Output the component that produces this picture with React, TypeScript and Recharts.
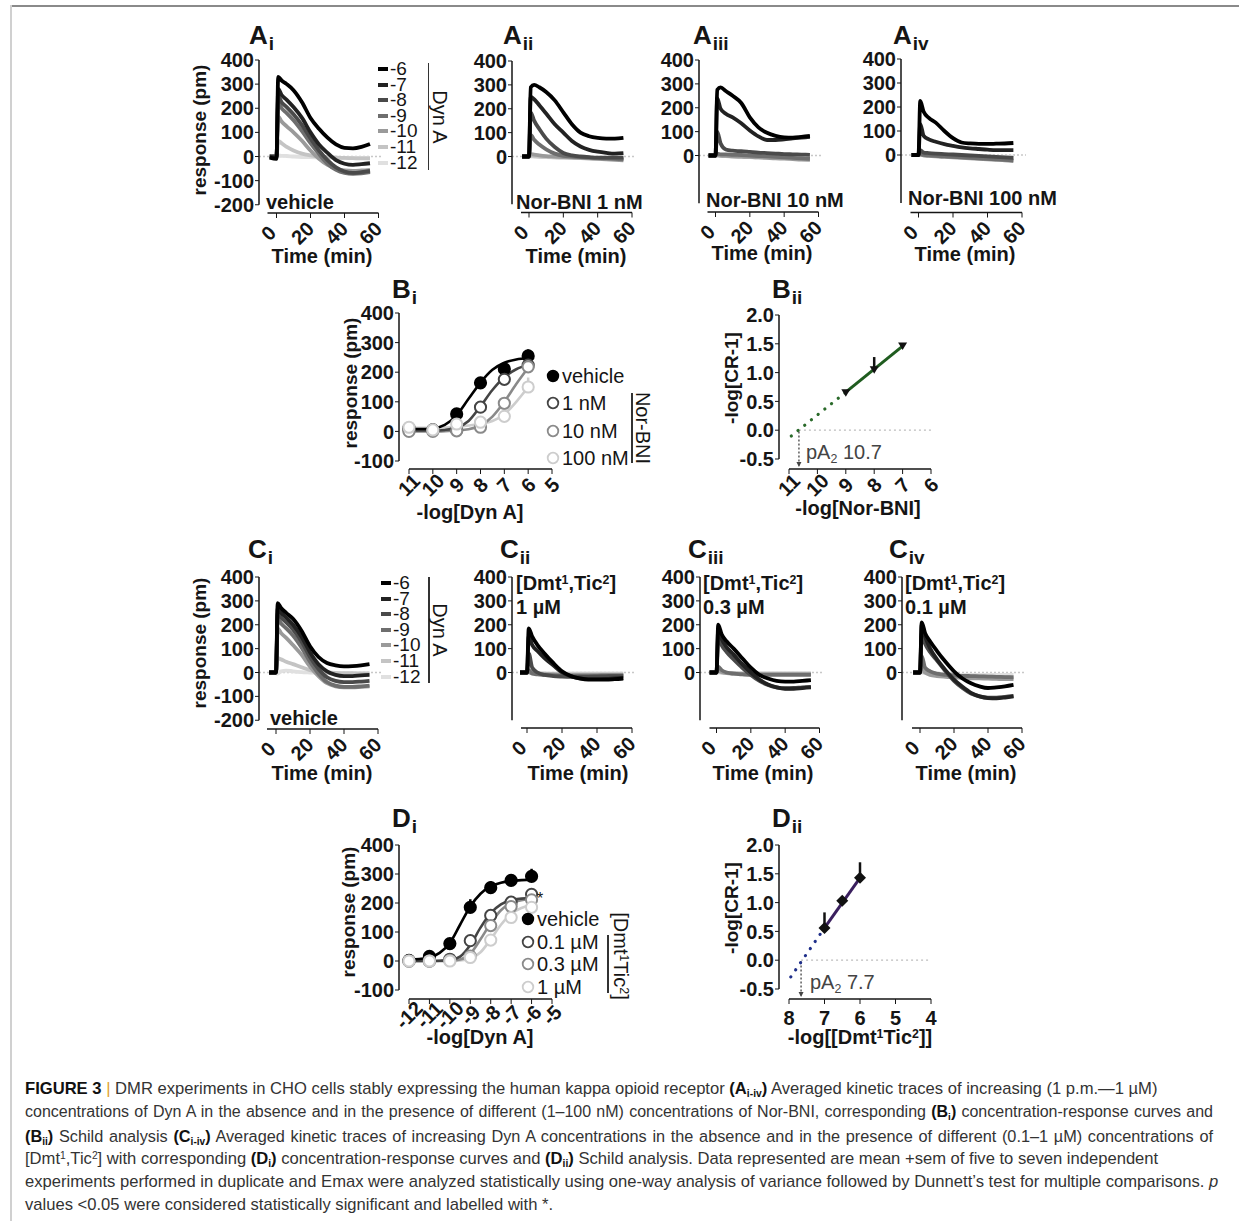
import React from 'react';
import { ComposedChart, Line, Scatter, XAxis, YAxis, ReferenceLine, ReferenceDot, ErrorBar } from 'recharts';

const FONT = '"Liberation Sans", Arial, Helvetica, sans-serif';
const INK = '#151515';

// ---------------- kinetic traces (response in pm vs time in min) ----------------
const TIME = [-4, 0, 1, 3, 6, 10, 15, 20, 25, 30, 35, 40, 45, 50, 55];
const TIME_TICKS = [0, 20, 40, 60];
const DYN_LEGEND = ['-6', '-7', '-8', '-9', '-10', '-11', '-12'];
const TRACE_COLORS = ['#000000', '#222222', '#4a4a4a', '#6e6e6e', '#9a9a9a', '#c4c4c4', '#e0e0e0'];

const A_I_TRACES = [
  [-5, -10, 330, 315, 300, 275, 225, 160, 115, 78, 50, 36, 34, 40, 52],
  [0, -5, 280, 255, 235, 205, 160, 100, 50, 15, -15, -30, -35, -32, -28],
  [0, 0, 250, 225, 205, 175, 130, 75, 25, -15, -45, -62, -68, -65, -60],
  [0, 0, 225, 200, 180, 150, 105, 55, 10, -30, -55, -68, -72, -70, -65],
  [0, 0, 165, 145, 125, 100, 65, 25, -10, -35, -50, -58, -60, -58, -55],
  [0, 0, 65, 55, 40, 25, 12, 5, 0, -3, -5, -6, -7, -8, -8],
  [0, 0, 5, 3, 2, 0, -2, -3, -4, -5, -5, -6, -6, -6, -6],
];
const A_II_TRACES = [
  [0, 0, 290, 300, 290, 270, 235, 185, 135, 100, 85, 78, 75, 75, 78],
  [0, 0, 250, 240, 215, 180, 135, 100, 65, 42, 28, 20, 15, 12, 14],
  [0, 0, 185, 150, 115, 75, 40, 15, 5, 0, -3, -5, -5, -5, -5],
  [0, 0, 90, 70, 50, 30, 12, 3, 0, -3, -5, -6, -8, -10, -12],
  [0, 0, 10, 8, 5, 2, 0, -2, -4, -6, -8, -10, -12, -14, -16],
  [0, 0, 3, 2, 0, -2, -4, -5, -6, -7, -8, -9, -10, -10, -10],
  [0, 0, 0, -1, -2, -3, -4, -5, -5, -6, -6, -7, -7, -7, -7],
];
const A_III_TRACES = [
  [0, 0, 275, 285, 270, 250, 220, 160, 118, 95, 82, 76, 75, 78, 82],
  [0, 0, 240, 195, 175, 160, 135, 105, 80, 65, 65, 68, 72, 75, 78],
  [0, 0, 100, 50, 25, 20, 18, 15, 12, 10, 8, 6, 5, 4, 3],
  [0, 0, 8, 5, 5, 3, 2, 0, -2, -4, -6, -8, -10, -12, -14],
  [0, 0, 2, 0, -2, -4, -5, -6, -8, -10, -12, -13, -15, -17, -18],
  [0, 0, 0, -2, -3, -5, -6, -7, -8, -9, -10, -11, -12, -13, -14],
  [0, 0, 0, -1, -2, -3, -4, -5, -6, -7, -8, -9, -10, -10, -10],
];
const A_IV_TRACES = [
  [0, 0, 225, 180, 155, 135, 100, 70, 52, 48, 46, 46, 47, 48, 50],
  [0, 0, 130, 80, 65, 55, 45, 38, 32, 28, 25, 22, 20, 20, 20],
  [0, 0, 20, 10, 8, 6, 4, 2, 0, -2, -4, -6, -8, -10, -12],
  [0, 0, 5, 0, -2, -4, -6, -8, -10, -12, -14, -16, -18, -20, -22],
  [0, 0, 2, -2, -4, -6, -8, -10, -12, -14, -16, -18, -20, -22, -25],
  [0, 0, 0, -2, -3, -4, -5, -6, -7, -8, -9, -10, -11, -12, -13],
  [0, 0, 0, -1, -2, -3, -4, -5, -5, -6, -6, -7, -7, -7, -7],
];
const C_I_TRACES = [
  [0, 0, 290, 270, 250, 225, 175, 110, 65, 40, 30, 26, 27, 30, 35],
  [0, 0, 270, 250, 230, 200, 150, 85, 35, 5, -10, -15, -15, -12, -10],
  [0, 0, 250, 230, 210, 180, 130, 65, 15, -20, -35, -40, -40, -38, -35],
  [0, 0, 225, 205, 185, 155, 105, 45, -5, -40, -55, -60, -60, -58, -55],
  [0, 0, 185, 165, 145, 115, 75, 25, -15, -45, -58, -62, -62, -60, -58],
  [0, 0, 60, 55, 45, 35, 22, 10, 3, 0, -2, -3, -3, -4, -4],
  [0, 0, -5, 5, 8, 5, 2, 0, -2, -3, -4, -5, -5, -5, -5],
];
const C_II_TRACES = [
  [0, 0, 185, 150, 115, 80, 40, 5, -15, -25, -30, -30, -30, -28, -25],
  [0, 0, 150, 115, 90, 60, 30, 0, -15, -25, -28, -28, -27, -25, -23],
  [0, 0, 80, 20, 0, -10, -15, -17, -18, -18, -18, -17, -16, -15, -15],
  [0, 0, 10, -5, -8, -10, -12, -13, -14, -14, -14, -14, -13, -13, -13],
  [0, 0, 2, -3, -5, -7, -8, -9, -10, -10, -10, -10, -10, -10, -10],
  [0, 0, 0, -2, -4, -5, -6, -7, -7, -7, -7, -7, -7, -7, -7],
  [0, 0, 0, -1, -2, -3, -4, -4, -4, -4, -4, -4, -4, -4, -4],
];
const C_III_TRACES = [
  [0, 0, 200, 160, 130, 100, 60, 20, -10, -25, -35, -38, -38, -35, -32],
  [0, 0, 180, 140, 105, 75, 35, 0, -30, -50, -62, -68, -68, -65, -62],
  [0, 0, 150, 115, 85, 55, 20, -10, -35, -52, -62, -66, -65, -62, -60],
  [0, 0, 25, 10, 0, -5, -8, -10, -10, -10, -10, -10, -10, -10, -10],
  [0, 0, 8, 2, -3, -5, -6, -7, -7, -7, -7, -7, -7, -7, -7],
  [0, 0, 3, 0, -2, -3, -4, -5, -5, -5, -5, -5, -5, -5, -5],
  [0, 0, 0, -1, -2, -2, -3, -3, -3, -3, -3, -3, -3, -3, -3],
];
const C_IV_TRACES = [
  [0, 0, 210, 165, 130, 90, 45, 5, -25, -45, -58, -65, -62, -58, -52],
  [0, 0, 200, 150, 100, 55, 10, -30, -60, -85, -100, -107, -108, -105, -100],
  [0, 0, 160, 120, 85, 50, 5, -35, -65, -88, -100, -105, -105, -102, -98],
  [0, 0, 70, 20, 5, -5, -10, -12, -14, -15, -16, -17, -18, -19, -20],
  [0, 0, 15, 0, -10, -15, -18, -20, -22, -24, -25, -26, -27, -28, -28],
  [0, 0, 5, 0, -5, -8, -10, -12, -14, -15, -16, -17, -18, -18, -18],
  [0, 0, 0, -2, -4, -6, -8, -10, -10, -10, -10, -10, -10, -10, -10],
];

// ---------------- concentration-response (Bi: Nor-BNI) ----------------
const BI_X = [11, 10, 9, 8, 7, 6];
const BI_TICKS = [11, 10, 9, 8, 7, 6, 5];
const BI_VEH = [11, 5, 59, 164, 211, 255];
const BI_VEH_ERR = [0, 0, 6, 14, 4, 22];
const BI_1NM = [5, 5, 5, 82, 176, 224];
const BI_1NM_ERR = [0, 0, 0, 16, 8, 4];
const BI_10NM = [0, 0, 2, 14, 95, 218];
const BI_10NM_ERR = [0, 0, 0, 4, 10, 6];
const BI_100NM = [14, 5, 25, 31, 51, 150];
const BI_100NM_ERR = [0, 0, 0, 0, 6, 32];
const BI_CURVE_X = [11, 10.5, 10, 9.5, 9, 8.5, 8, 7.5, 7, 6.5, 6];
const BI_CURVE_VEH = [8, 8, 10, 22, 55, 110, 165, 208, 232, 243, 247];
const BI_CURVE_1NM = [3, 3, 3, 5, 12, 35, 85, 140, 183, 210, 224];
const BI_CURVE_10NM = [0, 0, 0, 1, 3, 7, 20, 50, 100, 160, 215];
const BI_CURVE_100NM = [12, 12, 12, 13, 15, 20, 26, 35, 58, 100, 150];
const BI_LEGEND = ['vehicle', '1 nM', '10 nM', '100 nM'];

// ---------------- Schild (Bii) ----------------
const BII_TICKS = [11, 10, 9, 8, 7, 6];
const BII_X = [9, 8, 7];
const BII_Y = [0.65, 1.05, 1.46];
const BII_ERR = [0, 0.22, 0];
const BII_FIT_X = [9, 7];
const BII_FIT_Y = [0.66, 1.46];
const BII_EXT_X = [10.92, 9];
const BII_EXT_Y = [-0.1, 0.66];
const BII_PA2 = 10.65;
const BII_PA2_LABEL = '10.7';

// ---------------- concentration-response (Di: [Dmt1,Tic2]) ----------------
const DI_X = [-12, -11, -10, -9, -8, -7, -6];
const DI_TICKS = [-12, -11, -10, -9, -8, -7, -6, -5];
const DI_VEH = [2, 16, 60, 185, 253, 278, 292];
const DI_VEH_ERR = [0, 0, 6, 28, 22, 18, 26];
const DI_01 = [0, 0, 6, 70, 157, 203, 230];
const DI_01_ERR = [0, 0, 0, 8, 10, 8, 8];
const DI_03 = [0, 0, 2, 17, 122, 188, 211];
const DI_03_ERR = [0, 0, 0, 4, 10, 8, 8];
const DI_1 = [0, 0, 0, 12, 72, 150, 185];
const DI_1_ERR = [0, 0, 0, 4, 8, 8, 8];
const DI_CURVE_X = [-12, -11.5, -11, -10.5, -10, -9.5, -9, -8.5, -8, -7.5, -7, -6.5, -6];
const DI_CURVE_VEH = [5, 7, 12, 28, 62, 125, 188, 232, 257, 270, 276, 279, 280];
const DI_CURVE_01 = [0, 0, 0, 1, 3, 15, 55, 115, 165, 195, 210, 215, 217];
const DI_CURVE_03 = [0, 0, 0, 0, 1, 5, 25, 75, 130, 175, 200, 210, 213];
const DI_CURVE_1 = [0, 0, 0, 0, 0, 2, 8, 30, 75, 125, 163, 183, 192];
const DI_LEGEND = ['vehicle', '0.1 µM', '0.3 µM', '1 µM'];

// ---------------- Schild (Dii) ----------------
const DII_TICKS = [8, 7, 6, 5, 4];
const DII_X = [7, 6.5, 6];
const DII_Y = [0.56, 1.03, 1.43];
const DII_ERR = [0.27, 0, 0.27];
const DII_FIT_X = [7, 6];
const DII_FIT_Y = [0.56, 1.43];
const DII_EXT_X = [7.95, 7];
const DII_EXT_Y = [-0.29, 0.56];
const DII_PA2 = 7.66;
const DII_PA2_LABEL = '7.7';

const SCHILD_TICKS = [-0.5, 0, 0.5, 1, 1.5, 2];
const CRC_TICKS = [-100, 0, 100, 200, 300, 400];
const CRC_COLORS = ['#000000', '#444444', '#8a8a8a', '#cdcdcd'];

// ---------------- helpers ----------------
const PADL = 80, PADT = 14, PADR = 12, PADB = 60;
const TICK_FS = 20;

function lin(p1: number, v1: number, p2: number, v2: number) {
  return (p: number) => v1 + ((p - p1) * (v2 - v1)) / (p2 - p1);
}

type Box = { l: number; r: number; t: number; b: number };

function frame(box: Box, xv: (p: number) => number, yv: (p: number) => number) {
  const xa = xv(box.l), xb = xv(box.r);
  return {
    style: { position: 'absolute' as const, left: box.l - PADL, top: box.t - PADT },
    width: box.r - box.l + PADL + PADR,
    height: box.b - box.t + PADT + PADB,
    margin: { top: PADT, right: PADR, bottom: 0, left: 0 },
    xDomain: [Math.min(xa, xb), Math.max(xa, xb)] as [number, number],
    reversed: xa > xb,
    xLeft: xa,
    yDomain: [yv(box.b), yv(box.t)] as [number, number],
  };
}

function rotTick(dx: number, dy: number) {
  return (p: any) => {
    const cx = p.x + dx, cy = p.y + dy;
    return (
      <text x={cx} y={cy} textAnchor="middle" dominantBaseline="central" transform={`rotate(-45 ${cx} ${cy})`}
        fontSize={TICK_FS} fontWeight={700} fill={INK}>{p.payload.value}</text>
    );
  };
}

const yTickStyle = { fontSize: TICK_FS, fontWeight: 700, fill: INK };

function pts(xs: number[], ys: number[], errs?: number[]) {
  return xs.map((x, i) => ({ x, y: ys[i], e: [0, errs ? errs[i] : 0] }));
}

type TraceGeo = { axisX: number; lineX: number; x0: number; x60: number; y400: number; y0: number; axisY: number };

function TracePanel({ geo, traces, negative }: { geo: TraceGeo; traces: number[][]; negative: boolean }) {
  const xv = lin(geo.x0, 0, geo.x60, 60);
  const yv = lin(geo.y0, 0, geo.y400, 400);
  const f = frame({ l: geo.axisX, r: geo.x60 + 4, t: geo.y400, b: geo.axisY }, xv, yv);
  const data = TIME.map((t, i) => {
    const row: Record<string, number> = { t };
    traces.forEach((s, j) => { row['s' + j] = s[i]; });
    return row;
  });
  const yTicks = negative ? [-200, -100, 0, 100, 200, 300, 400] : [0, 100, 200, 300, 400];
  const order = traces.map((_, j) => j).reverse();
  return (
    <div style={f.style}>
      <ComposedChart width={f.width} height={f.height} data={data} margin={f.margin}>
        <XAxis type="number" dataKey="t" domain={f.xDomain} allowDataOverflow ticks={TIME_TICKS} interval={0}
          axisLine={false} tickSize={5} tickMargin={0} height={PADB} stroke={INK} tick={rotTick(-8, 15)} />
        <YAxis type="number" domain={f.yDomain} allowDataOverflow ticks={yTicks} interval={0} axisLine={false}
          tickSize={4} tickMargin={1} width={PADL} stroke={INK} tick={yTickStyle} />
        <ReferenceLine y={0} stroke="#c8c8c8" strokeDasharray="2 2" strokeWidth={1.5} />
        <ReferenceLine segment={[{ x: f.xLeft, y: -200 }, { x: f.xLeft, y: 400 }]} stroke={INK} strokeWidth={1.5} ifOverflow="visible" />
        <ReferenceLine segment={[{ x: xv(geo.lineX), y: f.yDomain[0] }, { x: 60, y: f.yDomain[0] }]} stroke={INK} strokeWidth={1.5} ifOverflow="visible" />
        {order.map((j) => (
          <Line key={j} dataKey={'s' + j} type="monotone" stroke={TRACE_COLORS[j]} strokeWidth={3.8} dot={false} isAnimationActive={false} />
        ))}
      </ComposedChart>
    </div>
  );
}

const circleShape = (fill: string, stroke: string) => (p: any) => (
  <circle cx={p.cx} cy={p.cy} r={5.6} fill={fill} stroke={stroke} strokeWidth={2} />
);

type CrcSeries = { x: number[]; y: number[]; err: number[]; cx: number[]; cy: number[] };

function CrcPanel({ geo, series, ticks }: {
  geo: { axisX: number; x1px: number; x1: number; x2px: number; x2: number; y400: number; yN100: number; axisY: number };
  series: CrcSeries[]; ticks: number[];
}) {
  const xv = lin(geo.x1px, geo.x1, geo.x2px, geo.x2);
  const yv = lin(geo.y400, 400, geo.yN100, -100);
  const f = frame({ l: geo.axisX, r: geo.x2px + 4, t: geo.y400, b: geo.axisY }, xv, yv);
  return (
    <div style={f.style}>
      <ComposedChart width={f.width} height={f.height} margin={f.margin}>
        <XAxis type="number" dataKey="x" domain={f.xDomain} reversed={f.reversed} allowDataOverflow ticks={ticks} interval={0}
          axisLine={false} tickSize={5} tickMargin={0} height={PADB} stroke={INK} tick={rotTick(0, 11)} />
        <YAxis type="number" domain={f.yDomain} allowDataOverflow ticks={CRC_TICKS} interval={0} axisLine={false}
          tickSize={4} tickMargin={1} width={PADL} stroke={INK} tick={yTickStyle} />
        <ReferenceLine segment={[{ x: f.xLeft, y: -100 }, { x: f.xLeft, y: 400 }]} stroke={INK} strokeWidth={1.5} ifOverflow="visible" />
        <ReferenceLine segment={[{ x: geo.x1, y: f.yDomain[0] }, { x: geo.x2, y: f.yDomain[0] }]} stroke={INK} strokeWidth={1.5} ifOverflow="visible" />
        {series.slice().reverse().map((s, k) => {
          const j = series.length - 1 - k;
          return (
            <Line key={'c' + j} data={pts(s.cx, s.cy)} dataKey="y" type="monotone" stroke={CRC_COLORS[j]} strokeWidth={2.6}
              dot={false} isAnimationActive={false} />
          );
        })}
        {series.map((s, j) => (
          <Scatter key={'p' + j} data={pts(s.x, s.y, s.err)} dataKey="y" isAnimationActive={false}
            shape={circleShape(j === 0 ? '#000' : '#fff', CRC_COLORS[j])}>
            <ErrorBar dataKey="e" direction="y" width={0} stroke={CRC_COLORS[j]} strokeWidth={2.5} />
          </Scatter>
        ))}
      </ComposedChart>
    </div>
  );
}

function SchildPanel({ geo, ticks, rotate, px, py, perr, fitX, fitY, extX, extY, pa2, color, dotColor, marker }: any) {
  const xv = lin(geo.x1px, geo.x1, geo.x2px, geo.x2);
  const yv = lin(geo.y2, 2, geo.yN05, -0.5);
  const f = frame({ l: geo.axisX, r: geo.x2px + 4, t: geo.y2, b: geo.axisY }, xv, yv);
  const shape = marker === 'tri'
    ? (p: any) => <polygon points={`${p.cx - 4.5},${p.cy - 3.5} ${p.cx + 4.5},${p.cy - 3.5} ${p.cx},${p.cy + 4}`} fill="#111" />
    : (p: any) => <polygon points={`${p.cx},${p.cy - 6} ${p.cx + 6},${p.cy} ${p.cx},${p.cy + 6} ${p.cx - 6},${p.cy}`} fill="#111" />;
  const plainTick = (p: any) => (
    <text x={p.x} y={p.y + 14} textAnchor="middle" dominantBaseline="central" fontSize={TICK_FS} fontWeight={700} fill={INK}>{p.payload.value}</text>
  );
  return (
    <div style={f.style}>
      <ComposedChart width={f.width} height={f.height} margin={f.margin}>
        <XAxis type="number" dataKey="x" domain={f.xDomain} reversed={f.reversed} allowDataOverflow ticks={ticks} interval={0}
          axisLine={false} tickSize={5} tickMargin={0} height={PADB} stroke={INK} tick={rotate ? rotTick(0, 11) : plainTick} />
        <YAxis type="number" domain={f.yDomain} allowDataOverflow ticks={SCHILD_TICKS} interval={0} axisLine={false}
          tickSize={4} tickMargin={1} width={PADL} stroke={INK} tick={yTickStyle} tickFormatter={(v: number) => v.toFixed(1)} />
        <ReferenceLine segment={[{ x: f.xLeft, y: -0.5 }, { x: f.xLeft, y: 2 }]} stroke={INK} strokeWidth={1.5} ifOverflow="visible" />
        <ReferenceLine segment={[{ x: geo.x1, y: f.yDomain[0] }, { x: geo.x2, y: f.yDomain[0] }]} stroke={INK} strokeWidth={1.5} ifOverflow="visible" />
        <ReferenceLine segment={[{ x: pa2, y: 0 }, { x: geo.x2, y: 0 }]} stroke="#bdbdbd" strokeDasharray="2 3" strokeWidth={1.3} ifOverflow="visible" />
        <ReferenceLine segment={[{ x: pa2, y: f.yDomain[0] + 0.06 }, { x: pa2, y: 0 }]} stroke="#444" strokeDasharray="2 2" strokeWidth={1.3} ifOverflow="visible" />
        <ReferenceDot x={pa2} y={f.yDomain[0]} ifOverflow="visible"
          shape={(p: any) => <polygon points={`${p.cx - 2.5},${p.cy - 7} ${p.cx + 2.5},${p.cy - 7} ${p.cx},${p.cy - 2}`} fill="#444" />} />
        <Line data={pts(extX, extY)} dataKey="y" type="linear" stroke={dotColor} strokeWidth={3.2} strokeDasharray="0.1 8.5"
          strokeLinecap="round" dot={false} isAnimationActive={false} />
        <Line data={pts(fitX, fitY)} dataKey="y" type="linear" stroke={color} strokeWidth={3} dot={false} isAnimationActive={false} />
        <Scatter data={pts(px, py, perr)} dataKey="y" isAnimationActive={false} shape={shape}>
          <ErrorBar dataKey="e" direction="y" width={0} stroke="#111" strokeWidth={2.5} />
        </Scatter>
      </ComposedChart>
    </div>
  );
}

// ---------------- text helpers ----------------
function Txt({ x, y, children, size = 20, bold = true, anchor = 'start', rot = 0, color = INK, lh = 1 }: any) {
  const tx = anchor === 'middle' ? '-50%' : anchor === 'end' ? '-100%' : '0';
  return (
    <div style={{
      position: 'absolute', left: x, top: y, transform: `translate(${tx}, -50%) rotate(${rot}deg)`,
      whiteSpace: 'nowrap', fontSize: size, fontWeight: bold ? 700 : 400, color, lineHeight: lh,
    }}>{children}</div>
  );
}

function Title({ x, y, main, sub }: { x: number; y: number; main: string; sub: string }) {
  return (
    <div style={{ position: 'absolute', left: x, top: y - 13, fontWeight: 700, lineHeight: 1, whiteSpace: 'nowrap', color: INK }}>
      <span style={{ fontSize: 26 }}>{main}</span>
      <span style={{ fontSize: 19, position: 'relative', top: 6, marginLeft: 1 }}>{sub}</span>
    </div>
  );
}

function DashLegend({ x, y, step, barX, barTop, barBottom, titleX }: any) {
  return (
    <>
      {DYN_LEGEND.map((lab, i) => (
        <React.Fragment key={lab}>
          <div style={{ position: 'absolute', left: x, top: y + i * step - 2, width: 10, height: 4, background: TRACE_COLORS[i] }} />
          <Txt x={x + 12} y={y + i * step} size={19} bold={false} lh={0.75}>{lab}</Txt>
        </React.Fragment>
      ))}
      <div style={{ position: 'absolute', left: barX, top: barTop, width: 1.5, height: barBottom - barTop, background: '#333' }} />
      <Txt x={titleX} y={(barTop + barBottom) / 2} size={20} bold={false} anchor="middle" rot={90} lh={0.8}>Dyn A</Txt>
    </>
  );
}

function CircleLegend({ x, y, step, labels, barX, barTop, barBottom, titleX, titleY, title, size = 20 }: any) {
  return (
    <>
      {labels.map((lab: string, i: number) => (
        <React.Fragment key={lab}>
          <svg style={{ position: 'absolute', left: x - 7, top: y + i * step - 7 }} width={14} height={14}>
            <circle cx={7} cy={7} r={5.3} fill={i === 0 ? '#000' : '#fff'} stroke={CRC_COLORS[i]} strokeWidth={1.8} />
          </svg>
          <Txt x={x + 9} y={y + i * step} size={size} bold={false} lh={0.9}>{lab}</Txt>
        </React.Fragment>
      ))}
      <div style={{ position: 'absolute', left: barX, top: barTop, width: 1.5, height: barBottom - barTop, background: '#333' }} />
      <Txt x={titleX} y={titleY} size={20} bold={false} anchor="middle" rot={90} lh={0.8}>{title}</Txt>
    </>
  );
}

const Sub = ({ children }: any) => <span style={{ fontSize: '0.62em', position: 'relative', top: '0.3em' }}>{children}</span>;
const Sup = ({ children }: any) => <span style={{ fontSize: '0.62em', position: 'relative', top: '-0.45em' }}>{children}</span>;
const Dmt = () => <>[Dmt<Sup>1</Sup>,Tic<Sup>2</Sup>]</>;

function CapLine({ y, children, justify, size = 16.6 }: any) {
  return (
    <div style={{
      position: 'absolute', left: 25, top: y - 9, width: justify ? 1188 : undefined, whiteSpace: 'nowrap',
      fontSize: size, lineHeight: '18px', color: '#333', textAlign: justify ? 'justify' : 'left',
      textAlignLast: justify ? 'justify' : 'auto',
    } as any}>{children}</div>
  );
}

const Bd = ({ children }: any) => <b style={{ color: '#111' }}>{children}</b>;

// ---------------- geometry of panels (pixels) ----------------
const GEO_AI = { axisX: 258.5, lineX: 267, x0: 276, x60: 378, y400: 60, y0: 156.5, axisY: 213 };
const GEO_AII = { axisX: 512, lineX: 521, x0: 529, x60: 632, y400: 61, y0: 156.5, axisY: 212.5 };
const GEO_AIII = { axisX: 698.5, lineX: 707, x0: 715, x60: 818, y400: 59.5, y0: 155, axisY: 211.5 };
const GEO_AIV = { axisX: 900.5, lineX: 910, x0: 918, x60: 1021.5, y400: 59, y0: 155, axisY: 212.5 };
const GEO_CI = { axisX: 259, lineX: 267, x0: 276, x60: 378, y400: 577, y0: 672.5, axisY: 729 };
const GEO_CII = { axisX: 512, lineX: 521, x0: 527, x60: 632, y400: 577, y0: 672.5, axisY: 728 };
const GEO_CIII = { axisX: 699.5, lineX: 709, x0: 716, x60: 819, y400: 577, y0: 672.5, axisY: 728 };
const GEO_CIV = { axisX: 902, lineX: 912, x0: 920, x60: 1022, y400: 577, y0: 672.5, axisY: 728 };

export default function App() {
  const biSeries: CrcSeries[] = [
    { x: BI_X, y: BI_VEH, err: BI_VEH_ERR, cx: BI_CURVE_X, cy: BI_CURVE_VEH },
    { x: BI_X, y: BI_1NM, err: BI_1NM_ERR, cx: BI_CURVE_X, cy: BI_CURVE_1NM },
    { x: BI_X, y: BI_10NM, err: BI_10NM_ERR, cx: BI_CURVE_X, cy: BI_CURVE_10NM },
    { x: BI_X, y: BI_100NM, err: BI_100NM_ERR, cx: BI_CURVE_X, cy: BI_CURVE_100NM },
  ];
  const diSeries: CrcSeries[] = [
    { x: DI_X, y: DI_VEH, err: DI_VEH_ERR, cx: DI_CURVE_X, cy: DI_CURVE_VEH },
    { x: DI_X, y: DI_01, err: DI_01_ERR, cx: DI_CURVE_X, cy: DI_CURVE_01 },
    { x: DI_X, y: DI_03, err: DI_03_ERR, cx: DI_CURVE_X, cy: DI_CURVE_03 },
    { x: DI_X, y: DI_1, err: DI_1_ERR, cx: DI_CURVE_X, cy: DI_CURVE_1 },
  ];
  return (
    <div style={{ position: 'absolute', left: 0, top: 0, width: 1239, height: 1221, background: '#fff', fontFamily: FONT, color: INK, overflow: 'hidden' }}>
      <div style={{ position: 'absolute', left: 10, top: 5, width: 1229, height: 2, background: '#8a8a8a' }} />
      <div style={{ position: 'absolute', left: 10, top: 5, width: 2, height: 1216, background: '#d0d0d0' }} />

      {/* ---------- row A ---------- */}
      <TracePanel geo={GEO_AI} traces={A_I_TRACES} negative />
      <TracePanel geo={GEO_AII} traces={A_II_TRACES} negative={false} />
      <TracePanel geo={GEO_AIII} traces={A_III_TRACES} negative={false} />
      <TracePanel geo={GEO_AIV} traces={A_IV_TRACES} negative={false} />
      <Title x={249} y={35} main="A" sub="i" />
      <Title x={503} y={35} main="A" sub="ii" />
      <Title x={693} y={35} main="A" sub="iii" />
      <Title x={893} y={35} main="A" sub="iv" />
      <Txt x={199} y={130} size={19} anchor="middle" rot={-90}>response (pm)</Txt>
      <Txt x={266} y={202}>vehicle</Txt>
      <Txt x={516} y={202}>Nor-BNI 1 nM</Txt>
      <Txt x={706} y={200}>Nor-BNI 10 nM</Txt>
      <Txt x={908} y={198}>Nor-BNI 100 nM</Txt>
      <Txt x={322} y={256} anchor="middle">Time (min)</Txt>
      <Txt x={576} y={256} anchor="middle">Time (min)</Txt>
      <Txt x={762} y={253} anchor="middle">Time (min)</Txt>
      <Txt x={965} y={254} anchor="middle">Time (min)</Txt>
      <DashLegend x={378} y={69} step={15.6} barX={427.5} barTop={63} barBottom={170} titleX={440} />

      {/* ---------- row B ---------- */}
      <CrcPanel geo={{ axisX: 399, x1px: 409, x1: 11, x2px: 552, x2: 5, y400: 313, yN100: 461, axisY: 469 }}
        series={biSeries} ticks={BI_TICKS} />
      <Title x={392} y={289} main="B" sub="i" />
      <Txt x={350} y={383} size={19} anchor="middle" rot={-90}>response (pm)</Txt>
      <Txt x={470} y={512} anchor="middle">-log[Dyn A]</Txt>
      <CircleLegend x={553} y={376} step={27.3} labels={BI_LEGEND} barX={631} barTop={393} barBottom={463}
        titleX={643} titleY={428} title="Nor-BNI" />

      <SchildPanel geo={{ axisX: 779, x1px: 789, x1: 11, x2px: 931, x2: 6, y2: 315, yN05: 459, axisY: 469 }}
        ticks={BII_TICKS} rotate px={BII_X} py={BII_Y} perr={BII_ERR} fitX={BII_FIT_X} fitY={BII_FIT_Y}
        extX={BII_EXT_X} extY={BII_EXT_Y} pa2={BII_PA2} color="#1f5c1f" dotColor="#2a6a2a" marker="tri" />
      <Title x={772} y={289} main="B" sub="ii" />
      <Txt x={731} y={378} size={19} anchor="middle" rot={-90}>-log[CR-1]</Txt>
      <Txt x={806} y={452} size={20} bold={false} color="#444">pA<Sub>2</Sub> {BII_PA2_LABEL}</Txt>
      <Txt x={858} y={508} anchor="middle">-log[Nor-BNI]</Txt>

      {/* ---------- row C ---------- */}
      <TracePanel geo={GEO_CI} traces={C_I_TRACES} negative />
      <TracePanel geo={GEO_CII} traces={C_II_TRACES} negative={false} />
      <TracePanel geo={GEO_CIII} traces={C_III_TRACES} negative={false} />
      <TracePanel geo={GEO_CIV} traces={C_IV_TRACES} negative={false} />
      <Title x={248} y={549} main="C" sub="i" />
      <Title x={500} y={549} main="C" sub="ii" />
      <Title x={688} y={549} main="C" sub="iii" />
      <Title x={889} y={549} main="C" sub="iv" />
      <Txt x={199} y={643} size={19} anchor="middle" rot={-90}>response (pm)</Txt>
      <Txt x={270} y={718}>vehicle</Txt>
      <Txt x={516} y={583}><Dmt /></Txt>
      <Txt x={516} y={607}>1 µM</Txt>
      <Txt x={703} y={583}><Dmt /></Txt>
      <Txt x={703} y={607}>0.3 µM</Txt>
      <Txt x={905} y={583}><Dmt /></Txt>
      <Txt x={905} y={607}>0.1 µM</Txt>
      <Txt x={322} y={773} anchor="middle">Time (min)</Txt>
      <Txt x={578} y={773} anchor="middle">Time (min)</Txt>
      <Txt x={763} y={773} anchor="middle">Time (min)</Txt>
      <Txt x={966} y={773} anchor="middle">Time (min)</Txt>
      <DashLegend x={381} y={583} step={15.6} barX={428} barTop={577} barBottom={683} titleX={440} />

      {/* ---------- row D ---------- */}
      <CrcPanel geo={{ axisX: 399, x1px: 409, x1: -12, x2px: 552, x2: -5, y400: 845, yN100: 990, axisY: 999 }}
        series={diSeries} ticks={DI_TICKS} />
      <Title x={392} y={818} main="D" sub="i" />
      <Txt x={348} y={912} size={19} anchor="middle" rot={-90}>response (pm)</Txt>
      <Txt x={480} y={1037} anchor="middle">-log[Dyn A]</Txt>
      <Txt x={537} y={899} size={16} bold={false}>*</Txt>
      <CircleLegend x={528} y={919} step={22.7} labels={DI_LEGEND} barX={607} barTop={935} barBottom={993}
        titleX={621} titleY={956} title={<>[Dmt<Sup>1</Sup>Tic<Sup>2</Sup>]</>} />

      <SchildPanel geo={{ axisX: 779, x1px: 789, x1: 8, x2px: 931, x2: 4, y2: 845, yN05: 989, axisY: 999 }}
        ticks={DII_TICKS} rotate={false} px={DII_X} py={DII_Y} perr={DII_ERR} fitX={DII_FIT_X} fitY={DII_FIT_Y}
        extX={DII_EXT_X} extY={DII_EXT_Y} pa2={DII_PA2} color="#3a1f5e" dotColor="#1f2f8a" marker="diamond" />
      <Title x={772} y={818} main="D" sub="ii" />
      <Txt x={731} y={908} size={19} anchor="middle" rot={-90}>-log[CR-1]</Txt>
      <Txt x={810} y={982} size={20} bold={false} color="#444">pA<Sub>2</Sub> {DII_PA2_LABEL}</Txt>
      <Txt x={860} y={1037} anchor="middle">-log[[Dmt<Sup>1</Sup>Tic<Sup>2</Sup>]]</Txt>

      {/* ---------- caption ---------- */}
      <CapLine y={1089}>
        <Bd>FIGURE 3</Bd> <span style={{ color: '#e0a030' }}>|</span> DMR experiments in CHO cells stably expressing the human kappa opioid receptor <Bd>(A<Sub>i-iv</Sub>)</Bd> Averaged kinetic traces of increasing (1 p.m.—1 µM)
      </CapLine>
      <CapLine y={1112} justify size={16}>
        concentrations of Dyn A in the absence and in the presence of different (1–100 nM) concentrations of Nor-BNI, corresponding <Bd>(B<Sub>i</Sub>)</Bd> concentration-response curves and
      </CapLine>
      <CapLine y={1135.5} justify size={16.3}>
        <Bd>(B<Sub>ii</Sub>)</Bd> Schild analysis <Bd>(C<Sub>i-iv</Sub>)</Bd> Averaged kinetic traces of increasing Dyn A concentrations in the absence and in the presence of different (0.1–1 µM) concentrations of
      </CapLine>
      <CapLine y={1159}>
        <Dmt /> with corresponding <Bd>(D<Sub>i</Sub>)</Bd> concentration-response curves and <Bd>(D<Sub>ii</Sub>)</Bd> Schild analysis. Data represented are mean +sem of five to seven independent
      </CapLine>
      <CapLine y={1182}>
        experiments performed in duplicate and Emax were analyzed statistically using one-way analysis of variance followed by Dunnett’s test for multiple comparisons. <i>p</i>
      </CapLine>
      <CapLine y={1205}>
        values &lt;0.05 were considered statistically significant and labelled with *.
      </CapLine>
    </div>
  );
}
